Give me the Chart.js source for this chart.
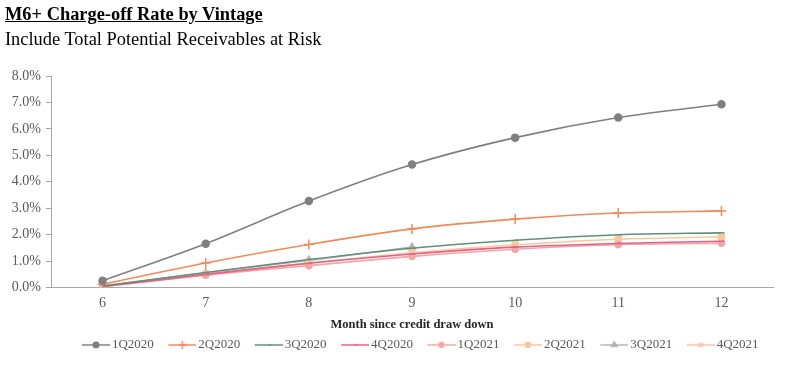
<!DOCTYPE html>
<html>
<head>
<meta charset="utf-8">
<script src="https://cdn.jsdelivr.net/npm/chart.js@4/dist/chart.umd.min.js"></script>
<style>
html,body{margin:0;padding:0;background:#fff;}
#wrap{position:relative;width:800px;height:376px;}
#title{position:absolute;left:5px;top:3px;font-family:"Liberation Serif","Times New Roman",serif;font-weight:bold;font-size:18.4px;text-decoration:underline;color:#000;line-height:22px;}
#sub{position:absolute;left:5px;top:28px;font-family:"Liberation Serif","Times New Roman",serif;font-size:18.4px;color:#000;line-height:22px;}
canvas{position:absolute;left:0;top:0;}
</style>
</head>
<body>
<div id="wrap">
<canvas id="c" width="800" height="376"></canvas>
<div id="title">M6+ Charge-off Rate by Vintage</div>
<div id="sub">Include Total Potential Receivables at Risk</div>
</div>
<script>
const months = ["6","7","8","9","10","11","12"];
const seriesNames = ["1Q2020","2Q2020","3Q2020","4Q2020","1Q2021","2Q2021","3Q2021","4Q2021"];
const s1Q2020 = [0.26,1.66,3.27,4.65,5.67,6.43,6.93];
const s2Q2020 = [0.13,0.93,1.63,2.22,2.59,2.82,2.90];
const s3Q2020 = [0.06,0.57,1.06,1.49,1.79,2.00,2.07];
const s4Q2020 = [0.04,0.50,0.92,1.27,1.53,1.67,1.75];
const s1Q2021 = [0.03,0.47,0.83,1.18,1.45,1.62,1.68];
const s2Q2021 = [0.08,0.52,0.93,1.32,1.62,1.83,1.92];
const s3Q2021 = [0.05,0.56,1.03,1.53,null,null,null];
const s4Q2021 = [0.04,0.50,0.90,null,null,null,null];

const colors = ["#7f7f7f","#ef8a5a","#5f8f7d","#e0628a","#f2a7a7","#f9c99c","#b3b3b3","#f6c3b1"];
const styles = ["circle","cross","dash","dash","circle","rect","triangle","crossRot"];
const radii = [3.5,5,3,3,3,4,4,4];
const data = [s1Q2020,s2Q2020,s3Q2020,s4Q2020,s1Q2021,s2Q2021,s3Q2021,s4Q2021];

function legendIcon(i){
  const cv=document.createElement('canvas');
  cv.width=39;cv.height=12;
  const ctx=cv.getContext('2d');
  ctx.strokeStyle=colors[i];ctx.fillStyle=colors[i];ctx.lineWidth=1.5;
  ctx.beginPath();ctx.moveTo(11,6);ctx.lineTo(39,6);ctx.stroke();
  Chart.helpers.drawPoint(ctx,{pointStyle:styles[i],radius:radii[i]*0.8,borderWidth:1.5,rotation:0},25,6);
  return cv;
}

const legendShift = {
  id:'legendShift',
  afterLayout(chart){ if(chart.legend){ chart.legend.left += 5; chart.legend.right += 5; } }
};

const datasets = seriesNames.map((n,i)=>({
  label:n,
  data:data[i],
  borderColor:colors[i],
  backgroundColor:colors[i],
  borderWidth:1.6,
  tension:0.3,
  pointStyle:styles[i],
  pointRadius:radii[i],
  pointBorderWidth:1.5,
  pointHoverRadius:radii[i],
  spanGaps:false
}));

new Chart(document.getElementById('c'),{
  type:'line',
  data:{labels:months,datasets:datasets},
  plugins:[legendShift],
  options:{
    responsive:false,
    animation:false,
    layout:{padding:{top:76,right:27,bottom:14.6,left:0}},
    plugins:{
      legend:{
        position:'bottom',
        fullSize:false,
        labels:{
          usePointStyle:true,
          pointStyleWidth:30,
          color:'#595959',
          font:{family:'"Liberation Serif","Times New Roman",serif',size:13,lineHeight:1.2923},
          padding:8,
          generateLabels:(chart)=>chart.data.datasets.map((d,i)=>({
            text:d.label,fillStyle:colors[i],strokeStyle:colors[i],
            pointStyle:legendIcon(i),datasetIndex:i,hidden:false,lineWidth:0,fontColor:'#595959'
          }))
        }
      },
      tooltip:{enabled:false}
    },
    scales:{
      x:{
        offset:true,
        grid:{display:false,drawTicks:false},
        border:{color:'#a6a6a6',width:1},
        ticks:{color:'#595959',font:{family:'"Liberation Serif","Times New Roman",serif',size:14},padding:7.1},
        title:{display:true,text:'Month since credit draw down',color:'#262626',
          font:{family:'"Liberation Serif","Times New Roman",serif',size:12.5,weight:'bold'},padding:{top:-1.6,bottom:-1.6}}
      },
      y:{
        min:0,max:8,
        afterFit:(s)=>{s.width=51;},
        grid:{drawOnChartArea:false,drawTicks:true,tickLength:5,color:'#a6a6a6'},
        border:{color:'#a6a6a6',width:1},
        ticks:{stepSize:1,color:'#595959',padding:5,
          font:{family:'"Liberation Serif","Times New Roman",serif',size:14},
          callback:(v)=>v.toFixed(1)+'%'}
      }
    }
  }
});
</script>
</body>
</html>
